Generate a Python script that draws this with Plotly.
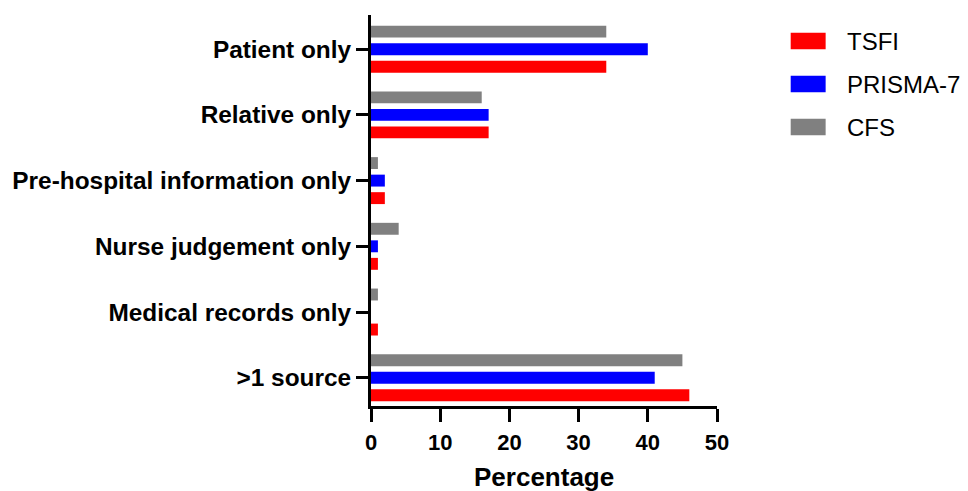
import plotly.graph_objects as go

categories = ["Patient only", "Relative only", "Pre-hospital information only",
              "Nurse judgement only", "Medical records only", ">1 source"]
series_names = ["TSFI", "PRISMA-7", "CFS"]
tsfi = [34, 17, 2, 1, 1, 46]
prisma7 = [40, 17, 2, 1, 0, 41]
cfs = [34, 16, 1, 4, 1, 45]
x_ticks = [0, 10, 20, 30, 40, 50]
x_title = "Percentage"

colors = {"TSFI": "#ff0000", "PRISMA-7": "#0000ff", "CFS": "#808080"}
values = {"TSFI": tsfi, "PRISMA-7": prisma7, "CFS": cfs}

FONT = "Liberation Sans, Arial, sans-serif"

fig = go.Figure()
# drawing order: CFS on top of each group, then PRISMA-7, then TSFI
for name in ["CFS", "PRISMA-7", "TSFI"]:
    fig.add_trace(go.Bar(
        y=list(range(len(categories))), x=values[name], orientation="h",
        name=name, marker=dict(color=colors[name], line=dict(width=0)),
        showlegend=False,
    ))

# legend drawn as wide swatches + labels (paper coordinates)
shapes = []
annotations = []
for i, name in enumerate(series_names):
    yc = 0.9335 - i * 0.11
    shapes.append(dict(type="rect", xref="paper", yref="paper",
                       x0=1.213, x1=1.314, y0=yc - 0.021, y1=yc + 0.021,
                       fillcolor=colors[name], line=dict(width=0)))
    annotations.append(dict(xref="paper", yref="paper", x=1.37, y=yc,
                            xanchor="left", yanchor="middle", showarrow=False,
                            text=name, font=dict(size=24, color="black", family=FONT)))

# x-axis title
annotations.append(dict(xref="paper", yref="paper", x=0.5, y=-0.182,
                        xanchor="center", yanchor="middle", showarrow=False,
                        text="<b>" + x_title + "</b>",
                        font=dict(size=26, color="black", family=FONT)))

fig.update_layout(
    width=960, height=483,
    margin=dict(l=363, r=251, t=7, b=85),
    paper_bgcolor="white", plot_bgcolor="white",
    barmode="group", bargap=0.2, bargroupgap=0.32,
    font=dict(family=FONT, color="black"),
    showlegend=False,
    shapes=shapes, annotations=annotations,
)
fig.update_xaxes(
    range=[0, 50], tickvals=x_ticks, ticktext=[str(v) for v in x_ticks],
    showline=True, linecolor="black", linewidth=3,
    ticks="outside", ticklen=13, tickwidth=3, tickcolor="black",
    showgrid=False, zeroline=False, ticklabelstandoff=2, automargin=False,
    tickfont=dict(size=22, family=FONT, weight="bold"),
)
fig.update_yaxes(
    range=[5.43, -0.52], tickvals=list(range(len(categories))),
    ticktext=categories, automargin=False,
    showline=True, linecolor="black", linewidth=3,
    ticks="outside", ticklen=12, tickwidth=3, tickcolor="black",
    showgrid=False, zeroline=False,
    tickfont=dict(size=24.4, family=FONT, weight="bold"),
)

fig.write_html("out.html")
